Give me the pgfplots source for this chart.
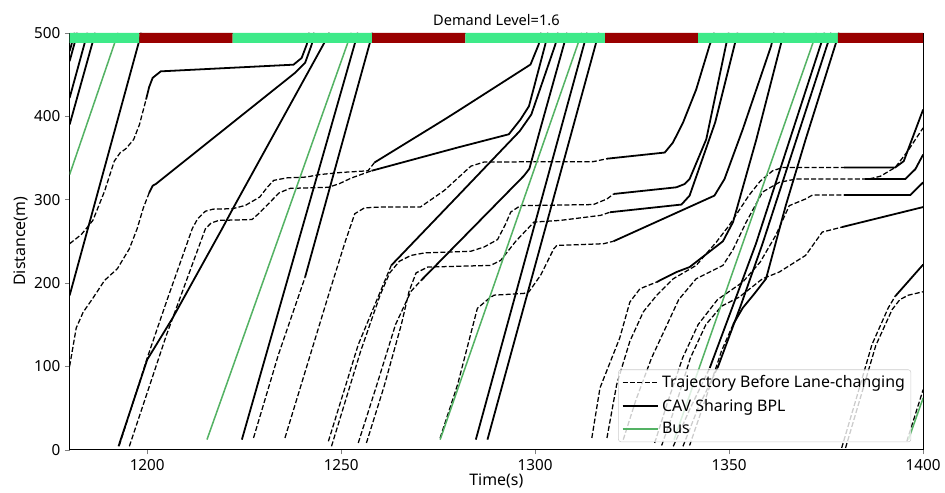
\documentclass[border=0pt]{standalone}
\usepackage{fontspec}
\setmainfont{Noto Sans}
\usepackage{pgfplots}
\pgfplotsset{compat=1.18}
\definecolor{sigG}{RGB}{62,234,137}
\definecolor{sigR}{RGB}{153,0,0}
\definecolor{busG}{RGB}{84,178,100}
\begin{document}
\begin{tikzpicture}
\begin{axis}[
  scale only axis, width=643.5pt, height=314.25pt,
  xmin=1180, xmax=1400, ymin=0, ymax=500,
  xtick={1200,1250,1300,1350,1400}, ytick={0,100,200,300,400,500},
  xtick pos=left, ytick pos=left, tick align=outside, major tick length=3.5pt,
  /pgf/number format/assume math mode=true,
  /pgf/number format/1000 sep={},
  font=\fontsize{12}{14}\selectfont,
  ticklabel style={font=\fontsize{11.5}{13}\selectfont},
  xlabel={Time(s)}, ylabel={Distance(m)},
  title={Demand Level=1.6},
  title style={yshift=-4pt, font=\fontsize{11}{13}\selectfont},
  xlabel style={yshift=4pt},
  ylabel style={yshift=-2pt},
  legend style={at={(0.986,0.018)}, anchor=south east, fill=white, fill opacity=0.8, text opacity=1,
    draw=black!20, rounded corners=2pt, font=\fontsize{12}{14}\selectfont, row sep=3pt,
    inner sep=2.5pt},
  legend cell align=left,
  legend image code/.code={\draw[#1] (0cm,0cm) -- (0.95cm,0cm);},
  dsh/.style={black, line width=0.95pt, dash pattern=on 3.8pt off 1.7pt},
  sol/.style={black, line width=1.35pt},
  bus/.style={busG, line width=1.15pt},
]
% ---- legend carriers ----
\addplot[dsh] coordinates {(1180,247) (1183,258) (1186,275) (1189,310) (1191.5,346) (1193,356) (1194.5,361) (1196.5,372) (1198,390) (1199.7,420)};
\addlegendentry{Trajectory Before Lane-changing}
\addplot[sol] coordinates {(1180,185) (1198.5,500)};
\addlegendentry{CAV Sharing BPL}
\addplot[bus] coordinates {(1180,330) (1192.5,500)};
\addlegendentry{Bus}
% ---- dashed trajectories ----
\pgfplotsset{every axis plot/.append style={forget plot}}
\addplot[dsh] coordinates {(1180,100) (1181.7,146) (1183.5,165) (1185.9,181) (1189,203) (1192.3,217) (1195.4,241) (1197.4,265) (1199,290) (1200.5,308)};
\addplot[dsh] coordinates {(1192.8,5) (1200,110) (1205,178) (1211.6,265) (1213,277) (1215,286) (1217,288.5) (1222,289) (1225.3,293) (1229,303) (1231,315) (1232.6,323) (1236,326) (1241,327) (1244.5,330) (1250,332.5) (1256.9,334.5) (1258.6,344.5)};
\addplot[dsh] coordinates {(1195.4,4) (1205,138) (1215,265) (1216.5,272) (1218.5,275) (1227,276) (1228.7,283) (1232.1,299) (1234,308) (1236.8,313.4) (1246.7,314.7) (1249.5,319) (1252.6,325.8) (1257.8,334.5)};
\addplot[dsh] coordinates {(1227.4,14) (1233.8,113.7) (1240.7,207)};
\addplot[dsh] coordinates {(1235.5,14) (1246.7,185) (1251,249) (1253.5,283) (1256,290) (1260,291) (1270.4,291) (1273.2,300) (1276.6,311) (1283.4,340) (1286.8,345) (1300,345.3) (1315,345.5) (1318.5,349)};
\addplot[dsh] coordinates {(1246.7,10) (1254.4,126) (1259.5,183) (1262.9,221)};
\addplot[dsh] coordinates {(1247.5,4) (1255,118) (1260,185) (1262.5,212) (1265,226) (1268,233) (1271.5,236) (1283.4,238) (1286.8,243) (1290.3,252) (1292.3,270) (1293.7,285) (1296.2,292.7) (1315,294) (1318.5,300.7) (1320.2,306.7)};
\addplot[dsh] coordinates {(1254.4,8) (1259,75) (1264,150) (1268,190) (1270.6,203)};
\addplot[dsh] coordinates {(1256.5,8) (1261,75) (1265.5,150) (1267.5,190) (1269.3,212) (1272.3,219) (1288.5,221) (1291.1,227) (1295,250) (1299.7,273) (1306.5,275) (1316.8,281) (1319.3,284.8)};
\addplot[dsh] coordinates {(1275.5,14) (1280,78) (1285.1,169.5) (1288.1,181.4) (1289.4,185.3) (1297.1,187.4) (1298.4,189.4) (1301.4,209.2) (1304.8,241) (1305.6,245) (1317.6,247) (1320.2,250)};
\addplot[dsh] coordinates {(1314.6,14) (1316.7,74) (1321.8,134) (1324.4,177) (1327,193) (1331.3,201)};
\addplot[dsh] coordinates {(1318.5,14) (1321,78) (1324.4,130) (1327.9,165.5) (1331.3,185) (1335.6,205) (1341.5,221) (1346.7,249) (1350,269) (1355.1,305) (1358,322) (1361.2,334.5) (1363.8,338.5) (1379.6,338.5)};
\addplot[dsh] coordinates {(1322.7,12) (1326,60) (1330,110) (1334,150) (1337,180) (1341.5,205) (1348.4,221) (1351,240) (1354.4,273) (1358.6,309) (1362.9,320.6) (1367.2,324.6) (1386,324.6) (1389,328) (1392.8,338.5) (1396,358) (1400,386)};
\addplot[dsh] coordinates {(1330.8,8) (1334,55) (1338,110) (1342,150) (1347,180) (1353.5,201) (1358,225) (1362,257) (1365.5,292.7) (1369.7,300.7) (1371.5,305.5) (1379.6,305.5)};
\addplot[dsh] coordinates {(1332.6,5) (1336,50) (1340,110) (1344,150) (1348,172) (1352.6,183) (1358.6,205) (1362.9,213) (1369.7,233) (1374,261) (1379.1,267)};
\addplot[dsh] coordinates {(1335.6,4) (1340,50) (1345,98)};
\addplot[dsh] coordinates {(1338.1,4) (1342,50) (1347,98)};
\addplot[dsh] coordinates {(1339.8,5) (1344,62) (1348,118) (1351,150)};
\addplot[dsh] coordinates {(1379,2) (1383,65) (1386.8,126) (1391,170) (1392.8,184)};
\addplot[dsh] coordinates {(1380,2) (1384,65) (1387.8,125) (1392,168) (1394,180) (1396.2,185.3) (1400,189.4)};
\addplot[dsh] coordinates {(1395.8,10) (1400,72)};
% ---- solid trajectories ----
\addplot[sol] coordinates {(1180,478) (1181.3,500)};
\addplot[sol] coordinates {(1180,466) (1182,500)};
\addplot[sol] coordinates {(1180,422) (1184.6,500)};
\addplot[sol] coordinates {(1180,390) (1186.6,500)};
\addplot[sol] coordinates {(1199.7,420) (1200.5,435) (1201.4,446) (1203.5,453.8) (1237.7,461.8) (1239.8,469.8) (1241.1,485.7) (1241.8,500)};
\addplot[sol] coordinates {(1200.5,308) (1201.4,316.6) (1202.2,318.6) (1238.1,452) (1240.7,464) (1242.4,486) (1243,500)};
\addplot[sol] coordinates {(1192.6,4) (1200,108) (1206.5,157.5) (1219.3,265) (1222.3,291) (1245.4,486) (1247,500)};
\addplot[sol] coordinates {(1224.4,12) (1254.3,500)};
\addplot[sol] coordinates {(1240.7,207) (1258.1,500)};
\addplot[sol] coordinates {(1258.6,344.5) (1276.6,396) (1280,406) (1298.8,462) (1300.9,486) (1301.5,500)};
\addplot[sol] coordinates {(1257.8,334.5) (1280,362.4) (1293.2,378.3) (1296.2,396) (1298.4,412) (1302.6,486) (1303.3,500)};
\addplot[sol] coordinates {(1262.9,221) (1280,304) (1296,382) (1299,402) (1305.2,486) (1305.9,500)};
\addplot[sol] coordinates {(1270.6,203) (1297.1,328.5) (1298.5,337) (1301.4,386) (1307.4,486) (1308.2,500)};
\addplot[sol] coordinates {(1284.7,12) (1313.4,500)};
\addplot[sol] coordinates {(1287.7,12) (1316.4,500)};
\addplot[sol] coordinates {(1318.5,349) (1333.4,356.4) (1335.5,368.3) (1338.1,392.2) (1341.5,432) (1345,485.7) (1346.2,500)};
\addplot[sol] coordinates {(1320.2,306.7) (1336.4,314.7) (1338.5,318.6) (1339.8,324.6) (1344.1,372.3) (1349.2,485.7) (1349.9,500)};
\addplot[sol] coordinates {(1319.3,284.8) (1337.7,294) (1339.8,304.7) (1346.4,392.6) (1351.4,485.7) (1352.2,500)};
\addplot[sol] coordinates {(1320.2,250) (1346.2,304.7) (1348.8,324.6) (1353.5,384.2) (1360.8,484) (1361.6,500)};
\addplot[sol] coordinates {(1331.3,201) (1336.4,213) (1339.8,219) (1348.4,250) (1351,273) (1357,372) (1363.3,486) (1364.2,500)};
\addplot[sol] coordinates {(1345,98) (1351,173) (1356.9,247) (1373.6,486) (1374.6,500)};
\addplot[sol] coordinates {(1347,98) (1353,173) (1358.6,247) (1375.3,486) (1376.3,500)};
\addplot[sol] coordinates {(1351,150) (1353.5,170) (1356.5,187) (1359.5,205) (1364.6,293) (1369.7,372) (1377.4,486) (1378.3,500)};
\addplot[sol] coordinates {(1379.6,338.5) (1392.8,338.5) (1395,346) (1400,408)};
\addplot[sol] coordinates {(1385,324.6) (1395.4,324.6) (1398,336.5) (1400,354)};
\addplot[sol] coordinates {(1379.6,305.5) (1396.7,305.5) (1400,320.6)};
\addplot[sol] coordinates {(1379.1,267) (1400,291)};
\addplot[sol] coordinates {(1392.8,184) (1400,222)};
% ---- buses ----
\addplot[bus] coordinates {(1215.4,12) (1252.6,500)};
\addplot[bus] coordinates {(1275.5,12) (1312,500)};
\addplot[bus] coordinates {(1335.8,12) (1372.5,500)};
\addplot[bus] coordinates {(1396.2,12) (1400,62)};
% ---- signal bar ----
\addplot[fill=sigG, draw=none] coordinates {(1180,488) (1198,488) (1198,500) (1180,500) (1180,488)};
\addplot[fill=sigR, draw=none] coordinates {(1198,488) (1222,488) (1222,500) (1198,500) (1198,488)};
\addplot[fill=sigG, draw=none] coordinates {(1222,488) (1258,488) (1258,500) (1222,500) (1222,488)};
\addplot[fill=sigR, draw=none] coordinates {(1258,488) (1282,488) (1282,500) (1258,500) (1258,488)};
\addplot[fill=sigG, draw=none] coordinates {(1282,488) (1318,488) (1318,500) (1282,500) (1282,488)};
\addplot[fill=sigR, draw=none] coordinates {(1318,488) (1342,488) (1342,500) (1318,500) (1318,488)};
\addplot[fill=sigG, draw=none] coordinates {(1342,488) (1378,488) (1378,500) (1342,500) (1342,488)};
\addplot[fill=sigR, draw=none] coordinates {(1378,488) (1400,488) (1400,500) (1378,500) (1378,488)};
\end{axis}
\path (-52.5pt,-32.25pt) rectangle (656.25pt,339pt);
\end{tikzpicture}
\end{document}
